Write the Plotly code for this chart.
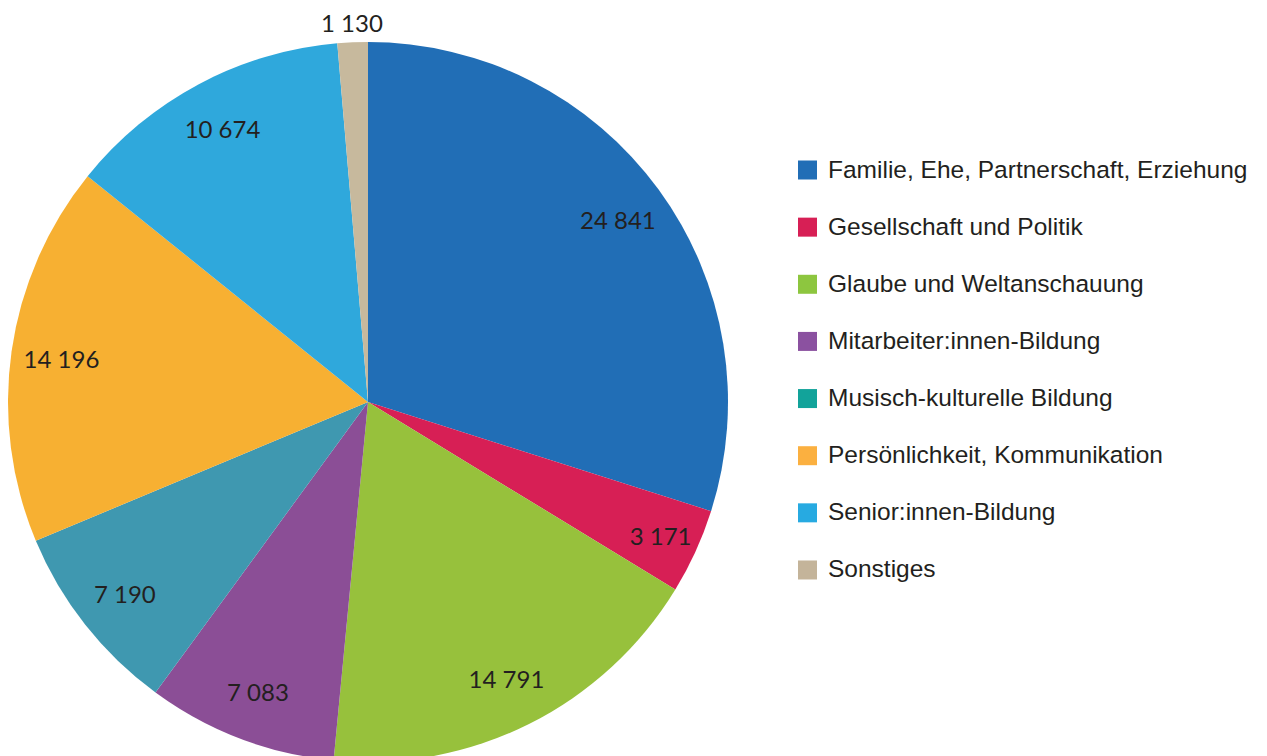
import math
import plotly.graph_objects as go

# categories and participant counts
categories = [
    "Familie, Ehe, Partnerschaft, Erziehung",
    "Gesellschaft und Politik",
    "Glaube und Weltanschauung",
    "Mitarbeiter:innen-Bildung",
    "Musisch-kulturelle Bildung",
    "Persönlichkeit, Kommunikation",
    "Senior:innen-Bildung",
    "Sonstiges",
]
values = [24841, 3171, 14791, 7083, 7190, 14196, 10674, 1130]
colors = ["#216EB6", "#D71F55", "#97C13C", "#8B4E96",
          "#3F98B0", "#F7B032", "#2FA8DC", "#C7B99D"]
legend_colors = ["#216EB6", "#D71F55", "#8DC63F", "#8B51A0",
                 "#12A39A", "#FBB040", "#27AAE1", "#C4B49A"]

# page body adds 8px margin, so work in figure pixels = window pixels - 8
W, H = 1259, 756
OFF = 8

# pie box in window pixels
cx, cy, size = 368, 402, 720
pie_domain = dict(x=[(cx - size / 2 - OFF) / W, (cx + size / 2 - OFF) / W],
                  y=[1 - (cy + size / 2 - OFF) / H, 1 - (cy - size / 2 - OFF) / H])

fig = go.Figure()
# the slices
fig.add_trace(go.Pie(
    labels=categories,
    values=values,
    sort=False,
    direction="clockwise",
    rotation=0,
    marker=dict(colors=colors, line=dict(width=0)),
    textinfo="none",
    domain=pie_domain,
    showlegend=False,
    hoverinfo="label+value+percent",
))
# transparent ring on top, only to put the value labels out near the rim
fig.add_trace(go.Pie(
    labels=categories,
    values=values,
    sort=False,
    direction="clockwise",
    rotation=0,
    hole=0.72,
    marker=dict(colors=["rgba(0,0,0,0)"] * 8, line=dict(width=0)),
    texttemplate="%{value:,}",
    textposition=["inside"] * 7 + ["none"],
    insidetextorientation="horizontal",
    textfont=dict(family="Lato", size=24, color="#231F20"),
    domain=pie_domain,
    showlegend=False,
    hoverinfo="skip",
))

annotations = []
shapes = []

# the tiny last slice gets its label straight above its middle
total = sum(values)
mid = 2 * math.pi * (total - values[-1] / 2) / total
r_lab = 380
annotations.append(dict(
    text=f"{values[-1]:,}".replace(",", " "),
    xref="paper", yref="paper",
    x=(cx + r_lab * math.sin(mid) - OFF) / W,
    y=1 - (cy - r_lab * math.cos(mid) - OFF) / H,
    xanchor="center", yanchor="middle", showarrow=False,
    font=dict(family="Lato", size=24, color="#231F20"),
))

# hand-built legend so spacing and square size match the original
for i, (name, col) in enumerate(zip(categories, legend_colors)):
    yc = 170 + i * 57.14 - OFF
    shapes.append(dict(
        type="rect", xref="paper", yref="paper",
        x0=(798 - OFF) / W, x1=(817 - OFF) / W,
        y0=1 - (yc + 9.5) / H, y1=1 - (yc - 9.5) / H,
        fillcolor=col, line=dict(width=0),
    ))
    annotations.append(dict(
        text=name, xref="paper", yref="paper",
        x=(826 - OFF) / W, y=1 - (yc - 1) / H,
        xanchor="left", yanchor="middle", showarrow=False,
        font=dict(family="Liberation Sans", size=24.5, color="#231F20"),
    ))

fig.update_layout(
    width=W, height=H,
    margin=dict(l=0, r=0, t=0, b=0),
    paper_bgcolor="white",
    plot_bgcolor="white",
    separators=". ",
    shapes=shapes,
    annotations=annotations,
)

fig.write_html("out.html")
